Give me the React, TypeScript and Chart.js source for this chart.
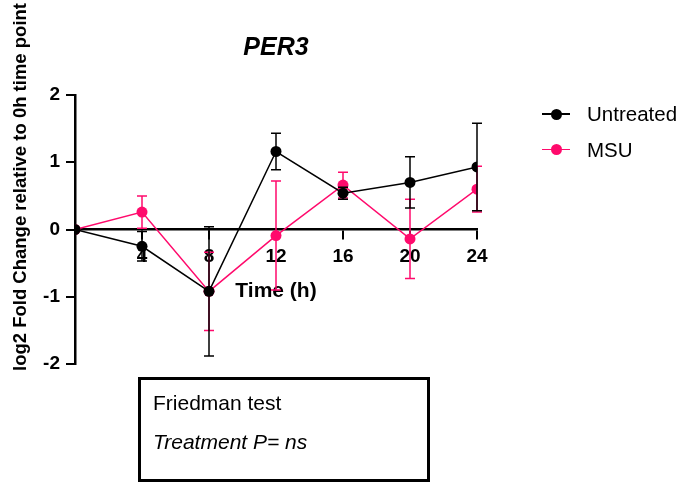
import React, { useEffect, useRef } from 'react';
import { Chart, registerables } from 'chart.js';

Chart.register(...registerables);

const FONT = '"Liberation Sans", Arial, Helvetica, sans-serif';

const chartTitle = 'PER3';
const xAxisTitle = 'Time (h)';
const yAxisTitle = 'log2 Fold Change relative to 0h time point';
const timePoints = [0, 4, 8, 12, 16, 20, 24];
const xTicks = [0, 4, 8, 12, 16, 20, 24];
const yTicks = [-2, -1, 0, 1, 2];
const seriesNames = ['Untreated', 'MSU'];
const seriesColors = ['#000000', '#ff0a6c'];
const untreatedMean = [0, -0.25, -0.92, 1.16, 0.54, 0.7, 0.93];
const untreatedErr = [0, 0.22, 0.96, 0.27, 0.09, 0.38, 0.65];
const msuMean = [0, 0.26, -0.92, -0.09, 0.66, -0.14, 0.6];
const msuErr = [0, 0.24, 0.58, 0.81, 0.19, 0.59, 0.34];
const statLines = ['Friedman test', 'Treatment P= ns'];

const errorBarPlugin = {
  id: 'errorBars',
  beforeDatasetDraw(chart: any, args: any) {
    const ds = chart.data.datasets[args.index];
    const errs: number[] = ds.errors || [];
    const yScale = chart.scales.y;
    const ctx = chart.ctx;
    ctx.save();
    ctx.strokeStyle = ds.borderColor;
    ctx.lineWidth = 1.5;
    args.meta.data.forEach((pt: any, i: number) => {
      const e = errs[i];
      if (!e) return;
      const v = ds.data[i].y;
      const yt = yScale.getPixelForValue(v + e);
      const yb = yScale.getPixelForValue(v - e);
      const x = pt.x;
      ctx.beginPath();
      ctx.moveTo(x, yt);
      ctx.lineTo(x, yb);
      ctx.moveTo(x - 5, yt);
      ctx.lineTo(x + 5, yt);
      ctx.moveTo(x - 5, yb);
      ctx.lineTo(x + 5, yb);
      ctx.stroke();
    });
    ctx.restore();
  },
};

const yTitlePlugin = {
  id: 'yTitleCustom',
  afterDraw(chart: any) {
    const ctx = chart.ctx;
    ctx.save();
    ctx.translate(21, 187);
    ctx.rotate(-Math.PI / 2);
    ctx.font = `bold 18.5px ${FONT}`;
    ctx.fillStyle = '#000';
    ctx.textAlign = 'center';
    ctx.textBaseline = 'middle';
    ctx.fillText(yAxisTitle, 0, 0);
    ctx.restore();
  },
};

export default function App() {
  const canvasRef = useRef<HTMLCanvasElement | null>(null);

  useEffect(() => {
    if (!canvasRef.current) return;
    const means = [untreatedMean, msuMean];
    const errs = [untreatedErr, msuErr];
    const chart = new Chart(canvasRef.current, {
      type: 'line',
      data: {
        datasets: seriesNames.map((name, si) => ({
          label: name,
          data: timePoints.map((t, i) => ({ x: t, y: means[si][i] })),
          errors: errs[si],
          borderColor: seriesColors[si],
          backgroundColor: seriesColors[si],
          pointBackgroundColor: seriesColors[si],
          pointBorderColor: seriesColors[si],
          pointRadius: 5.5,
          pointBorderWidth: 0,
          borderWidth: 1.5,
          tension: 0,
        })) as any,
      },
      options: {
        animation: false,
        responsive: true,
        maintainAspectRatio: false,
        layout: { padding: { left: 0, right: 204, top: 0, bottom: 118 } },
        plugins: {
          legend: { display: false },
          tooltip: { enabled: false },
          title: {
            display: true,
            text: chartTitle,
            fullSize: false,
            color: '#000',
            font: { family: FONT, size: 25, weight: 'bold', style: 'italic' },
            padding: { top: 33, bottom: 32 },
          },
        },
        scales: {
          x: {
            type: 'linear',
            position: { y: 0 } as any,
            min: 0,
            max: 24,
            afterBuildTicks: (s: any) => {
              s.ticks = xTicks.map((v) => ({ value: v }));
            },
            ticks: {
              autoSkip: false,
              maxRotation: 0,
              color: '#000',
              padding: 7,
              font: { family: FONT, size: 19, weight: 'bold' },
              callback: (v: any) => (v === 0 ? '' : String(v)),
            },
            grid: {
              display: true,
              drawOnChartArea: false,
              tickLength: 9,
              lineWidth: 2,
              color: (c: any) => (c.tick && c.tick.value === 0 ? 'rgba(0,0,0,0)' : '#000'),
            },
            border: { display: true, color: '#000', width: 2.5 },
            title: {
              display: true,
              text: xAxisTitle,
              color: '#000',
              font: { family: FONT, size: 21, weight: 'bold' },
              padding: { top: 3, bottom: 0 },
            },
          },
          y: {
            type: 'linear',
            min: -2,
            max: 2,
            afterBuildTicks: (s: any) => {
              s.ticks = yTicks.map((v) => ({ value: v }));
            },
            afterFit: (s: any) => {
              s.width = 75;
            },
            ticks: {
              color: '#000',
              padding: 6,
              font: { family: FONT, size: 19, weight: 'bold' },
            },
            grid: {
              display: true,
              drawOnChartArea: false,
              tickLength: 9,
              lineWidth: 2,
              color: '#000',
            },
            border: { display: true, color: '#000', width: 2.5 },
          },
        },
      } as any,
      plugins: [errorBarPlugin, yTitlePlugin],
    });
    return () => chart.destroy();
  }, []);

  return (
    <div style={{ position: 'absolute', left: 0, top: 0, width: 681, height: 482, background: '#fff', fontFamily: FONT }}>
      <canvas ref={canvasRef} />
      {seriesNames.map((name, i) => (
        <div key={name} style={{ position: 'absolute', left: 542, top: 114 + i * 35.5 - 12, height: 24, width: 140 }}>
          <div style={{ position: 'absolute', left: 0, top: 11.25, width: 28, height: 1.5, background: seriesColors[i] }} />
          <div style={{ position: 'absolute', left: 8.5, top: 6.5, width: 11, height: 11, borderRadius: '50%', background: seriesColors[i] }} />
          <div style={{ position: 'absolute', left: 45, top: 0, lineHeight: '24px', fontSize: 20.5, color: '#000', whiteSpace: 'nowrap' }}>{name}</div>
        </div>
      ))}
      <div style={{ position: 'absolute', left: 138, top: 377, width: 292, height: 105, border: '3px solid #000', boxSizing: 'border-box' }} />
      <div style={{ position: 'absolute', left: 153, top: 391, fontSize: 21, lineHeight: '24px', color: '#000', whiteSpace: 'nowrap' }}>{statLines[0]}</div>
      <div style={{ position: 'absolute', left: 153, top: 430, fontSize: 21, lineHeight: '24px', color: '#000', fontStyle: 'italic', whiteSpace: 'nowrap' }}>{statLines[1]}</div>
    </div>
  );
}
